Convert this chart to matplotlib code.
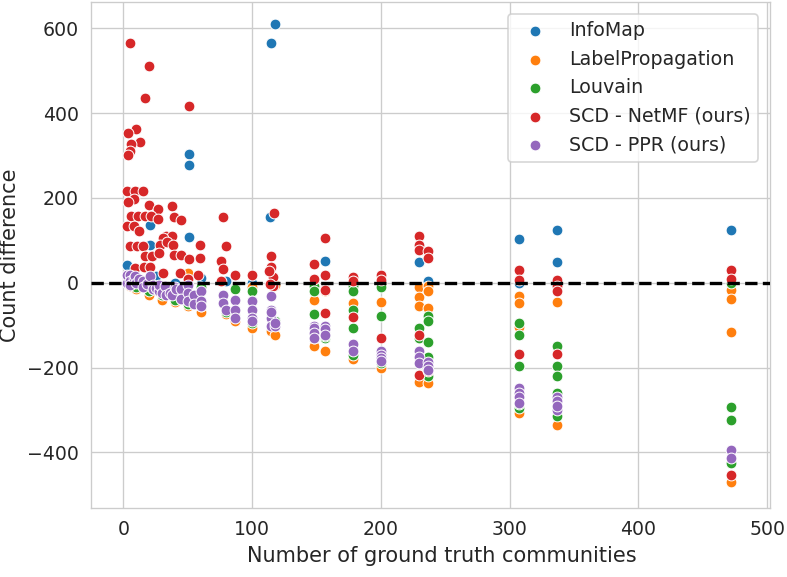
import numpy as np
import matplotlib
matplotlib.use("Agg")
import matplotlib.pyplot as plt
import seaborn as sns

# values (x = number of communities, y = count difference)
infomap_x = [118, 115, 114, 51, 51, 51, 21, 21, 3, 10, 5, 25, 40, 60, 80, 100,
             148, 157, 178, 200, 230, 237, 307, 307, 337, 337, 472, 472]
infomap_y = [611, 564, 156, 304, 278, 107, 137, 88, 42, 10, 5, 15, 0, 10, 5, 0,
             5, 50, 0, 0, 49, 5, 103, 0, 125, 48, 125, 3]

labelprop_x = [5, 10, 20, 27, 30, 40, 50, 50, 60, 60, 80, 87, 100, 100, 115, 118, 118,
               148, 148, 157, 157, 178, 178, 200, 200, 200, 230, 230, 230, 230,
               237, 237, 237, 237, 307, 307, 307, 307, 337, 337, 337,
               472, 472, 472, 472]
labelprop_y = [-8, -15, -30, -10, -40, -45, -55, 23, -68, -10, -75, -91, -107, -10, -115, -123, -5,
               -40, -150, -160, -20, -48, -180, -46, -201, -5, -10, -34, -54, -233,
               -7, -20, -60, -237, -32, -48, -105, -307, -46, -335, -10,
               -17, -38, -117, -471]

louvain_x = [10, 20, 30, 40, 50, 60, 60, 80, 87, 87, 87, 100, 100, 100, 118, 118,
             148, 148, 148, 148, 157, 157, 178, 178, 178, 178, 178, 200, 200, 200,
             230, 230, 237, 237, 237, 237, 237, 307, 307, 307, 307, 307,
             337, 337, 337, 337, 337, 472, 472, 472, 472]
louvain_y = [-10, -20, -30, -40, -50, -55, -10, -70, -12, -16, -80, -20, -44, -95, -100, -90,
             -9, -20, -75, -130, -130, -125, -9, -20, -64, -107, -170, -79, -190, -10,
             -107, -130, -78, -91, -141, -175, -221, -95, -123, -197, -296, -285,
             -197, -221, -260, -315, -150, -292, -323, -425, 0]

netmf_x = [5, 20, 16.7, 51, 9.5, 3.8, 12.8, 5.8, 5, 4,
           2.5, 9, 15, 8.4, 3.5, 20, 38, 26.6, 6.2, 11.4, 16.6, 21.8, 26.6, 39.3, 44.7,
           3, 8.6, 12.3, 33, 37.6, 31, 59.5, 5.3, 10.5, 15.3, 28.4, 33.6, 38.8,
           16.7, 22.2, 27.7, 39, 44.8, 51.2, 59.5, 9.4, 16, 21, 31, 44, 58, 50.5,
           77.7, 79.8, 75.9, 77.7, 76, 86.8, 99.8,
           117, 115, 115, 116, 116, 113, 114,
           148, 148, 157, 157, 157, 157, 157, 178, 178, 178, 200, 200, 200,
           230, 230, 230, 230, 230, 237, 237, 237,
           307, 307, 307, 337, 337, 337, 337, 472, 472, 472]
netmf_y = [564, 510, 436, 416, 363, 354, 332, 327, 310, 302,
           217, 217, 217, 197, 190, 184, 180, 174, 158, 158, 158, 158, 149, 155, 147,
           133, 133, 121, 111, 111, 106, 90, 86, 86, 86, 88, 95, 88,
           62, 62, 70, 65, 65, 56, 58, 34, 38, 38, 23, 23, 19, 8,
           155, 87, 50, 32, 5, 17, 19,
           164, 62, 38, 14, -9, 28, -2,
           45, 9, 105, 19, -15, -18, -72, 13, 3, -81, 19, 7, -130,
           111, 90, 78, -123, -217, 74, 58, -209,
           29, 7, -168, 7, -9, -20, -168, 31, 9, -453]

ppr_x = [2.5, 2.5, 5, 5, 5, 8, 9, 10, 12, 15, 15, 18, 20.6, 23, 23, 25, 28, 28, 30, 32,
         33, 36, 38, 40, 41, 45, 45, 50, 50, 50, 55, 55, 60, 60, 60,
         77.7, 77.7, 80, 86.8, 86.8, 86.8, 100, 100, 100, 100,
         115, 115, 115, 115, 115, 118, 118,
         148, 148, 148, 148, 157, 157, 157, 178, 178, 200, 200, 200, 200,
         230, 230, 230, 237, 237, 237, 307, 307, 307, 307, 337, 337, 337, 337, 472, 472]
ppr_y = [0, 19, 19, 5, -5, 12, 15, 0, 8, 5, -10, -2, 15, -5, -15, -12, -20, -5, -25, -9,
         -30, -24, -30, -10, -16, -15, -38, -5, -24, -44, -30, -50, -20, -44, -55,
         -28, -48, -64, -40, -64, -83, -44, -64, -83, -90,
         -32, -64, -83, -103, -70, -103, -95,
         -101, -107, -118, -130, -101, -110, -123, -144, -162, -162, -170, -178, -185,
         -162, -175, -190, -186, -197, -205, -248, -260, -270, -283, -269, -280, -301, -290, -394, -414]

series = [
    ("InfoMap", infomap_x, infomap_y),
    ("LabelPropagation", labelprop_x, labelprop_y),
    ("Louvain", louvain_x, louvain_y),
    ("SCD - NetMF (ours)", netmf_x, netmf_y),
    ("SCD - PPR (ours)", ppr_x, ppr_y),
]

sns.set_style("whitegrid")
colors = sns.color_palette("tab10")

fig = plt.figure(figsize=(787 / 120, 577 / 120), dpi=120)
ax = fig.add_axes([0.115, 0.119, 0.863, 0.877])

for i, (name, xs, ys) in enumerate(series):
    ax.scatter(xs, ys, s=42, color=colors[i], edgecolor="white", linewidth=0.6,
               label=name, zorder=2 + i * 0.01)

ax.axhline(0, color="black", linestyle="--", linewidth=2, zorder=5)

ax.set_xlim(-25.5, 502)
ax.set_ylim(-532, 661)
ax.set_xticks([0, 100, 200, 300, 400, 500])
ax.set_yticks([-400, -200, 0, 200, 400, 600])
ax.tick_params(labelsize=11.3)
ax.set_xlabel("Number of ground truth communities", fontsize=12.5)
ax.set_ylabel("Count difference", fontsize=12.5)
ax.xaxis.set_label_coords(0.517, -0.075)
ax.legend(loc="upper right", fontsize=11.4, borderaxespad=0.6)

fig.savefig("out.png", dpi=120)
